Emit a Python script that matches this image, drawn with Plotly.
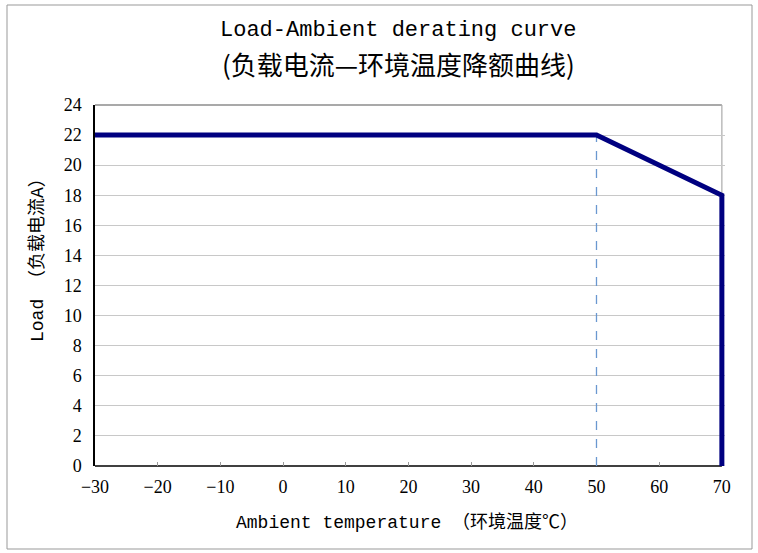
import plotly.graph_objects as go

temp = [-30, 50, 70, 70]
load = [22, 22, 18, 0]
knee_x = [50, 50]
knee_y = [0, 22]
x_ticks = [-30, -20, -10, 0, 10, 20, 30, 40, 50, 60, 70]
y_ticks = [0, 2, 4, 6, 8, 10, 12, 14, 16, 18, 20, 22, 24]

title1 = "Load-Ambient derating curve"
title2 = "(负载电流—环境温度降额曲线)"
xtitle = "Ambient temperature （环境温度℃）"
ytitle = "Load （负载电流A）"

W, H = 758, 553
L, R, T, B = 95, 33, 105, 87
X_MIN, X_MAX, X_PAD = -30, 70, 0.5
pw, ph = W - L - R, H - T - B

def px(x):
    return (x - L) / pw

def py(y):
    return (H - B - y) / ph

mono = "Liberation Mono, Noto Sans CJK SC"
serif = "Liberation Serif"

fig = go.Figure()
fig.add_trace(go.Scatter(x=knee_x, y=knee_y, mode="lines",
                         line=dict(color="#6a98d0", width=1.3, dash="dash"),
                         hoverinfo="skip", showlegend=False))
fig.add_trace(go.Scatter(x=temp, y=load, mode="lines", cliponaxis=False,
                         line=dict(color="#000080", width=5),
                         showlegend=False))

fig.update_xaxes(range=[X_MIN, X_MAX + X_PAD], tickvals=x_ticks,
                 ticktext=[str(v).replace("-", "−") for v in x_ticks],
                 showgrid=False, zeroline=False, showline=False,
                 ticks="inside", ticklen=4, tickcolor="#999", tickwidth=1,
                 tickfont=dict(family=serif, size=18, color="black"), ticklabelstandoff=8,
                 layer="below traces")
fig.update_yaxes(range=[0, 24], tickvals=y_ticks, showgrid=True, gridcolor="#c8c8c8", gridwidth=1,
                 zeroline=False, showline=True, linecolor="black", linewidth=1.5, ticks="",
                 tickfont=dict(family=serif, size=18, color="black"), ticklabelstandoff=8,
                 layer="below traces")

shapes = [
    # cover grid beyond x max
    dict(type="rect", xref="x", yref="paper", x0=X_MAX, x1=X_MAX + X_PAD, y0=-0.01, y1=1.01,
         fillcolor="white", line=dict(width=0), layer="between"),
    # top border
    dict(type="line", xref="x", yref="paper", x0=X_MIN, x1=X_MAX, y0=1, y1=1, layer="between",
         line=dict(color="#555", width=1.2)),
    # right border
    dict(type="line", xref="x", yref="paper", x0=X_MAX, x1=X_MAX, y0=0, y1=1, layer="between",
         line=dict(color="#aaa", width=1.2)),
    # bottom axis line
    dict(type="line", xref="x", yref="paper", x0=X_MIN, x1=X_MAX, y0=0, y1=0, layer="between",
         line=dict(color="black", width=1.5)),
    # outer frame
    dict(type="rect", xref="paper", yref="paper", x0=px(7), x1=px(752), y0=py(549), y1=py(5),
         line=dict(color="#999", width=1), layer="below"),
]

annotations = [
    dict(text=title1, x=px(398), y=py(30), xref="paper", yref="paper", showarrow=False,
         font=dict(family=mono, size=22, color="black"), xanchor="center", yanchor="middle"),
    dict(text=title2, x=px(398), y=py(63), xref="paper", yref="paper", showarrow=False,
         font=dict(family="Noto Sans CJK SC", size=26, color="black"), xanchor="center", yanchor="middle"),
    dict(text=xtitle, x=px(407), y=py(522), xref="paper", yref="paper", showarrow=False,
         font=dict(family=mono, size=18, color="black"), xanchor="center", yanchor="middle"),
    dict(text=ytitle, x=px(37), y=py(255), xref="paper", yref="paper", showarrow=False, textangle=-90,
         font=dict(family=mono, size=18, color="black"), xanchor="center", yanchor="middle"),
]

fig.update_layout(width=W, height=H, margin=dict(l=L, r=R, t=T, b=B),
                  paper_bgcolor="white", plot_bgcolor="white",
                  shapes=shapes, annotations=annotations, showlegend=False)

fig.write_html("out.html", config={"displayModeBar": False},
               post_script="document.body.style.margin='0';document.body.style.overflow='hidden';")
